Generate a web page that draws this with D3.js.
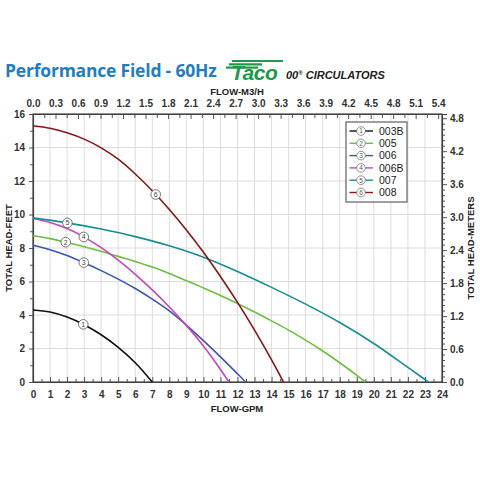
<!DOCTYPE html>
<html><head><meta charset="utf-8">
<script src="https://cdn.jsdelivr.net/npm/d3@7"></script>
<style>body{margin:0;background:#fff}svg{display:block}</style>
</head><body>
<script>
// ---- data ----
const seriesNames = ["003B","005","006","006B","007","008"];
const seriesColors = ["#111111","#6cbf3f","#3a55b5","#c845b8","#138f92","#8b1418"];
const flow003B = [0,1,2,3,4,5,6,7];
const head003B = [4.3,4.18,3.88,3.42,2.82,2.07,1.15,0];
const flow005 = [0,1,2,3,4,5,6,7,8,9,10,11,12,13,14,15,16,17,18,19,19.5];
const head005 = [8.73,8.56,8.33,8.08,7.8,7.5,7.2,6.87,6.48,6.05,5.62,5.17,4.68,4.18,3.65,3.1,2.5,1.85,1.15,0.4,0];
const flow006 = [0,1,2,3,4,5,6,7,8,9,10,11,12,12.48];
const head006 = [8.17,7.9,7.55,7.12,6.65,6.14,5.58,4.95,4.25,3.4,2.47,1.5,0.49,0];
const flow006B = [0,1,2,3,4,5,6,7,8,9,10,11,11.5];
const head006B = [9.76,9.52,9.16,8.65,8.02,7.27,6.43,5.5,4.48,3.38,2.15,0.75,0];
const flow007 = [0,2,4,6,8,10,12,14,16,18,20,22,23.2];
const head007 = [9.8,9.5,9.13,8.68,8.13,7.45,6.6,5.65,4.65,3.55,2.3,0.87,0];
const flow008 = [0,1,2,3,4,5,6,7,8,9,10,11,12,13,14,14.7];
const head008 = [15.3,15.15,14.88,14.5,13.98,13.3,12.42,11.42,10.3,9.08,7.75,6.3,4.75,3.1,1.32,0];
const markerFlow = [2.95,1.92,2.98,2.98,2.02,7.2];
const gpmTicks = d3.range(0,25,1);
const feetTicks = d3.range(0,17,2);
const m3hTicks = d3.range(0,19).map(i=>+(i*0.3).toFixed(1));
const meterTicks = d3.range(0,9).map(i=>+(i*0.6).toFixed(1));

const flows = [flow003B,flow005,flow006,flow006B,flow007,flow008];
const heads = [head003B,head005,head006,head006B,head007,head008];

// ---- layout ----
const W=480,H=480;
const L=33,R=442,T=114,B=382;
const svg=d3.select("body").append("svg").attr("width",W).attr("height",H);
const x=d3.scaleLinear().domain([0,24]).range([L,R]);
const y=d3.scaleLinear().domain([0,16]).range([B,T]);
const xTop=d3.scaleLinear().domain([0,24/4.40287]).range([L,R]);
const yRight=d3.scaleLinear().domain([0,16*0.3048]).range([B,T]);
const axisFont="'Liberation Sans', Arial, sans-serif";

// grid
const g=svg.append("g");
g.selectAll(".vg").data(gpmTicks.slice(1,-1)).join("line")
 .attr("x1",d=>x(d)).attr("x2",d=>x(d)).attr("y1",T).attr("y2",B)
 .attr("stroke","#dcdcdc").attr("stroke-width",1);
g.selectAll(".hg").data(feetTicks.slice(1,-1)).join("line")
 .attr("x1",L).attr("x2",R).attr("y1",d=>y(d)).attr("y2",d=>y(d))
 .attr("stroke","#dcdcdc").attr("stroke-width",1);

function styleAxis(sel){
  sel.selectAll("path").attr("stroke","#444").attr("stroke-width",1.2);
  sel.selectAll("line").attr("stroke","#555");
  sel.selectAll("text").attr("font-family",axisFont).attr("font-weight","bold")
    .attr("font-size",10).attr("fill","#333");
}
// minor ticks
function minor(axisGen, values, pos, size){
  const a=svg.append("g").attr("transform",pos).call(axisGen.tickValues(values).tickSize(size).tickFormat(""));
  a.select("path").remove();
  a.selectAll("line").attr("stroke","#555");
}
minor(d3.axisBottom(x), d3.range(0.5,24,1), `translate(0,${B})`, -3);
minor(d3.axisLeft(y), d3.range(1,16,2), `translate(${L},0)`, 3);
minor(d3.axisRight(yRight), d3.range(0,49).map(i=>i/10).filter(v=>Math.round(v*10)%6!==0), `translate(${R},0)`, 3);
minor(d3.axisTop(xTop), d3.range(0,18).map(i=>0.15+i*0.3), `translate(0,${T})`, -4);

// bottom axis (ticks inward)
const ax1=svg.append("g").attr("transform",`translate(0,${B})`)
 .call(d3.axisBottom(x).tickValues(gpmTicks).tickSizeInner(-5).tickSizeOuter(0).tickPadding(6).tickFormat(d3.format("d")));
styleAxis(ax1);
ax1.selectAll("text").attr("dy","0.95em");
// left
const ax2=svg.append("g").attr("transform",`translate(${L},0)`)
 .call(d3.axisLeft(y).tickValues(feetTicks).tickSizeOuter(0).tickSize(4).tickPadding(4).tickFormat(d3.format("d")));
styleAxis(ax2);
// top
const ax3=svg.append("g").attr("transform",`translate(0,${T})`)
 .call(d3.axisTop(xTop).tickValues(m3hTicks).tickSizeOuter(0).tickSizeInner(-5).tickPadding(7).tickFormat(d3.format(".1f")));
styleAxis(ax3);
// right
const ax4=svg.append("g").attr("transform",`translate(${R},0)`)
 .call(d3.axisRight(yRight).tickValues(meterTicks).tickSizeOuter(0).tickSize(5).tickPadding(3).tickFormat(d3.format(".1f")));
styleAxis(ax4);
// frame
svg.append("rect").attr("x",L).attr("y",T).attr("width",R-L).attr("height",B-T)
 .attr("fill","none").attr("stroke","#444").attr("stroke-width",1.2);

// curves
const line=d3.line().x(d=>x(d[0])).y(d=>y(d[1])).curve(d3.curveMonotoneX);
const interp=(fx,hy,v)=>{for(let i=0;i<fx.length-1;i++){if(v>=fx[i]&&v<=fx[i+1]){const t=(v-fx[i])/(fx[i+1]-fx[i]);return hy[i]+t*(hy[i+1]-hy[i]);}}return hy[hy.length-1];};
seriesNames.forEach((n,i)=>{
  const pts=flows[i].map((f,j)=>[f,heads[i][j]]);
  svg.append("path").attr("d",line(pts)).attr("fill","none")
   .attr("stroke",seriesColors[i]).attr("stroke-width",1.6);
});
seriesNames.forEach((n,i)=>{
  const mx=markerFlow[i], my=interp(flows[i],heads[i],mx);
  svg.append("circle").attr("cx",x(mx)).attr("cy",y(my)).attr("r",4.8)
   .attr("fill","#fff").attr("stroke","#666").attr("stroke-width",0.9);
  svg.append("text").attr("x",x(mx)).attr("y",y(my)+2.4).attr("text-anchor","middle")
   .attr("font-family",axisFont).attr("font-size",7).attr("fill","#444").text(i+1);
});

// legend
const lg=svg.append("g");
lg.append("rect").attr("x",346).attr("y",122).attr("width",61).attr("height",80)
 .attr("fill","#fff").attr("stroke","#777").attr("stroke-width",1.4);
seriesNames.forEach((n,i)=>{
  const yy=131+i*12.3;
  lg.append("line").attr("x1",349.5).attr("x2",373).attr("y1",yy).attr("y2",yy)
   .attr("stroke",seriesColors[i]).attr("stroke-width",1.4);
  lg.append("circle").attr("cx",361).attr("cy",yy).attr("r",4.3)
   .attr("fill","#fff").attr("stroke","#777").attr("stroke-width",0.8);
  lg.append("text").attr("x",361).attr("y",yy+2.3).attr("text-anchor","middle")
   .attr("font-family",axisFont).attr("font-size",6.5).attr("fill","#555").text(i+1);
  lg.append("text").attr("x",379).attr("y",yy+3.8)
   .attr("font-family",axisFont).attr("font-size",10.5).attr("fill","#222").text(n);
});

// axis titles
const titleStyle=s=>s.attr("font-family",axisFont).attr("font-weight","bold").attr("font-size",9.5).attr("fill","#222");
svg.append("text").attr("x",237).attr("y",95).attr("text-anchor","middle").call(titleStyle).text("FLOW-M3/H");
svg.append("text").attr("x",237).attr("y",412).attr("text-anchor","middle").call(titleStyle).text("FLOW-GPM");
svg.append("text").attr("transform",`translate(12,248) rotate(-90)`).attr("text-anchor","middle").call(titleStyle).text("TOTAL HEAD-FEET");
svg.append("text").attr("transform",`translate(474,248) rotate(-90)`).attr("text-anchor","middle").call(titleStyle).text("TOTAL HEAD-METERS");

// main title
svg.append("text").attr("x",5).attr("y",77).attr("font-family","'Open Sans', sans-serif")
 .attr("font-weight","bold").attr("font-size",17.5).attr("fill","#1f7dc4").attr("letter-spacing","-0.2").text("Performance Field - 60Hz");
// Taco logo
const logo=svg.append("g");
[[232,283,61],[229,262,64.3],[226,258,67.6]].forEach(s=>logo.append("line")
  .attr("x1",s[0]).attr("x2",s[1]).attr("y1",s[2]).attr("y2",s[2]).attr("stroke","#1c9a48").attr("stroke-width",2.2));
logo.append("text").attr("x",231).attr("y",80).attr("font-family","'Liberation Sans', Arial, sans-serif")
 .attr("font-style","italic").attr("font-weight","bold").attr("font-size",21).attr("fill","#1c9a48").attr("letter-spacing","-0.5").text("Taco");
svg.append("text").attr("x",286).attr("y",79).attr("font-family",axisFont)
 .attr("font-style","italic").attr("font-weight","bold").attr("font-size",11).attr("fill","#222")
 .html('00<tspan font-size="6" dy="-4">®</tspan><tspan dy="4"> CIRCULATORS</tspan>');
</script>
</body></html>
